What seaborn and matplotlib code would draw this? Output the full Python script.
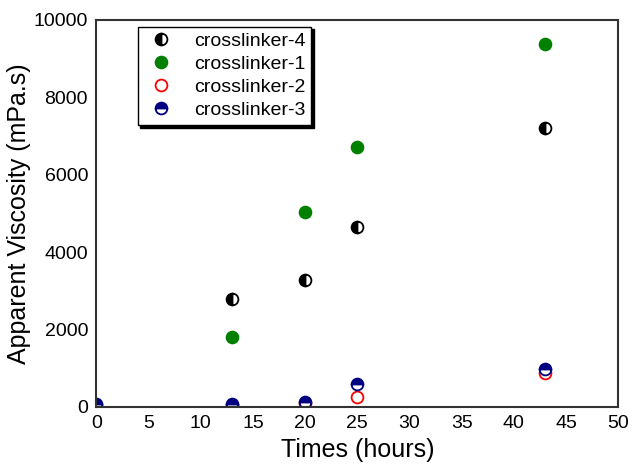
import matplotlib
matplotlib.use('Agg')
import matplotlib.pyplot as plt
import seaborn as sns

# data
x4 = [13, 20, 25, 43]
y4 = [2800, 3280, 4650, 7200]
x1 = [13, 20, 25, 43]
y1 = [1800, 5030, 6730, 9370]
x2 = [0, 13, 20, 25, 43]
y2 = [60, 60, 100, 250, 880]
x3 = [0, 13, 20, 25, 43]
y3 = [80, 80, 120, 600, 980]

sns.set_style('white')
plt.rcParams['font.family'] = ['Liberation Sans', 'DejaVu Sans']
plt.rcParams['text.color'] = 'black'
plt.rcParams['axes.labelcolor'] = 'black'

fig, ax = plt.subplots(figsize=(6.34, 4.65), dpi=100)

common = dict(marker='o', linestyle='', markersize=8.5, markeredgewidth=1.3)
sns.lineplot(x=x4, y=y4, ax=ax, label='crosslinker-4', color='black',
             fillstyle='left', markerfacecoloralt='white', mec='black', **common)
sns.lineplot(x=x1, y=y1, ax=ax, label='crosslinker-1', color='green',
             mec='green', **common)
sns.lineplot(x=x2, y=y2, ax=ax, label='crosslinker-2', color='red',
             mfc='white', mec='red', **common)
sns.lineplot(x=x3, y=y3, ax=ax, label='crosslinker-3', color='navy',
             fillstyle='top', markerfacecoloralt='white', mec='navy', **common)

ax.set_xlim(0, 50)
ax.set_ylim(0, 10000)
ax.set_xticks(range(0, 51, 5))
ax.set_yticks(range(0, 10001, 2000))
ax.tick_params(direction='in', length=6, width=1.2, labelsize=14, colors='black', pad=6)
for s in ax.spines.values():
    s.set_color('#333333')
    s.set_linewidth(1.5)
ax.set_xlabel('Times (hours)', fontsize=18, labelpad=4)
ax.set_ylabel('Apparent Viscosity (mPa.s)', fontsize=18, labelpad=2)

leg = ax.legend(loc='upper left', bbox_to_anchor=(0.079, 0.983), borderaxespad=0,
                fontsize=14, frameon=True, fancybox=False,
                shadow={'color': 'black', 'alpha': 1},
                edgecolor='black', handletextpad=0.8, borderpad=0.3, labelspacing=0.28,
                handlelength=1.8)
leg.get_frame().set_linewidth(1.0)

plt.subplots_adjust(left=0.152, right=0.975, top=0.957, bottom=0.125)
fig.savefig('out.png', dpi=100)
